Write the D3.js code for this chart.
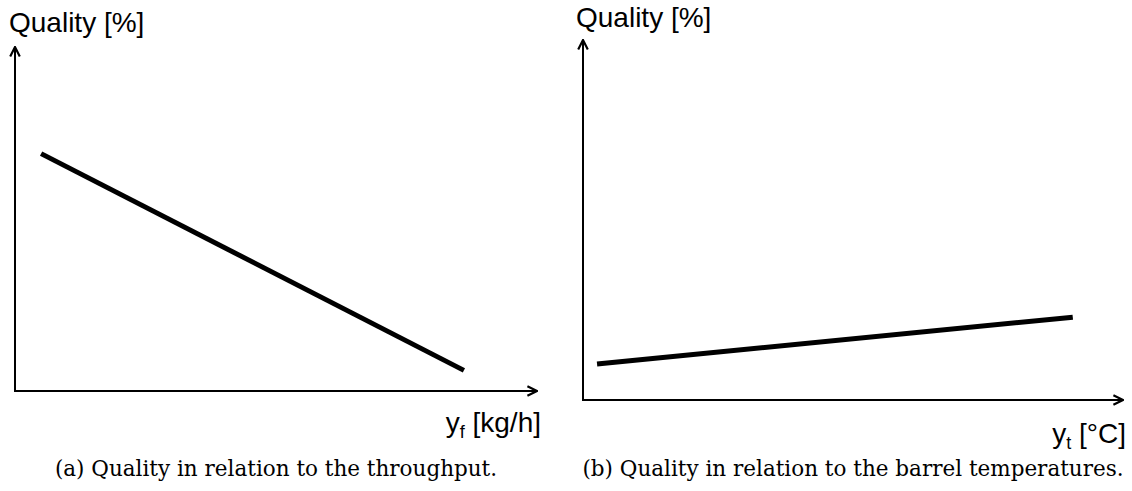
<!DOCTYPE html>
<html>
<head>
<meta charset="utf-8">
<script src="https://cdn.jsdelivr.net/npm/d3@7"></script>
<style>
  body { margin: 0; background: #fff; }
  .axisTitle { font-family: "Liberation Sans", Arial, sans-serif; font-size: 28px; fill: #000; }
  .caption { font-family: "DejaVu Serif", "Liberation Serif", serif; font-size: 21.5px; fill: #000; }
</style>
</head>
<body>
<div id="chart"></div>
<script>
// Qualitative sketch: both axes are unitless 0..100
var panelNames = ["a", "b"];
var yTitles = ["Quality [%]", "Quality [%]"];
var xMain = ["y", "y"];
var xSub = ["f", "t"];
var xUnits = [" [kg/h]", " [°C]"];
var captions = ["(a) Quality in relation to the throughput.", "(b) Quality in relation to the barrel temperatures."];

// line end points per panel (x, quality)
var throughputX = [5, 86];
var throughputQ = [69, 6];
var temperatureX = [2.6, 90.7];
var temperatureQ = [10, 23];

var svgWidth = 1132;
var svgHeight = 491;

var svg = d3.select("#chart")
    .append("svg")
    .attr("width", svgWidth)
    .attr("height", svgHeight);

// frame of each panel in pixels
var frames = [
  { left: 15, right: 537, top: 47, bottom: 391, titleX: 9, titleY: 32, labelRight: 541, labelY: 432, capX: 276, capY: 476 },
  { left: 583, right: 1123, top: 40, bottom: 400, titleX: 576, titleY: 27, labelRight: 1126, labelY: 443, capX: 853, capY: 476 }
];

var lineData = [
  throughputX.map((x, i) => ({ x: x, q: throughputQ[i] })),
  temperatureX.map((x, i) => ({ x: x, q: temperatureQ[i] }))
];

// arrow heads
var defs = svg.append("defs");
defs.append("marker")
    .attr("id", "arrow")
    .attr("viewBox", "0 0 10 10")
    .attr("refX", 9)
    .attr("refY", 5)
    .attr("markerUnits", "userSpaceOnUse")
    .attr("markerWidth", 12)
    .attr("markerHeight", 12)
    .attr("orient", "auto")
    .append("path")
    .attr("d", "M1,1 L9,5 L1,9")
    .attr("fill", "none")
    .attr("stroke", "black")
    .attr("stroke-width", 1.8);

panelNames.forEach(function(name, i) {
  var f = frames[i];
  var g = svg.append("g").attr("class", "panel-" + name);

  var xScale = d3.scaleLinear().domain([0, 100]).range([f.left, f.right]);
  var yScale = d3.scaleLinear().domain([0, 100]).range([f.bottom, f.top]);

  // y axis arrow
  g.append("line")
      .attr("x1", xScale(0)).attr("y1", yScale(0) + 1)
      .attr("x2", xScale(0)).attr("y2", yScale(100))
      .attr("stroke", "black")
      .attr("stroke-width", 2)
      .attr("marker-end", "url(#arrow)");

  // x axis arrow
  g.append("line")
      .attr("x1", xScale(0) - 1).attr("y1", yScale(0))
      .attr("x2", xScale(100)).attr("y2", yScale(0))
      .attr("stroke", "black")
      .attr("stroke-width", 2)
      .attr("marker-end", "url(#arrow)");

  // the relation line
  var line = d3.line().x(d => xScale(d.x)).y(d => yScale(d.q));
  g.append("path")
      .datum(lineData[i])
      .attr("d", line)
      .attr("fill", "none")
      .attr("stroke", "black")
      .attr("stroke-width", 5);

  // y title
  g.append("text")
      .attr("class", "axisTitle")
      .attr("x", f.titleX)
      .attr("y", f.titleY)
      .text(yTitles[i]);

  // x label with subscript
  var xl = g.append("text")
      .attr("class", "axisTitle")
      .attr("x", f.labelRight)
      .attr("y", f.labelY)
      .attr("text-anchor", "end");
  xl.append("tspan").text(xMain[i]);
  xl.append("tspan").attr("dy", 6).style("font-size", "18px").text(xSub[i]);
  xl.append("tspan").attr("dy", -6).text(xUnits[i]);

  // caption
  g.append("text")
      .attr("class", "caption")
      .attr("x", f.capX)
      .attr("y", f.capY)
      .attr("text-anchor", "middle")
      .text(captions[i]);
});
</script>
</body>
</html>
